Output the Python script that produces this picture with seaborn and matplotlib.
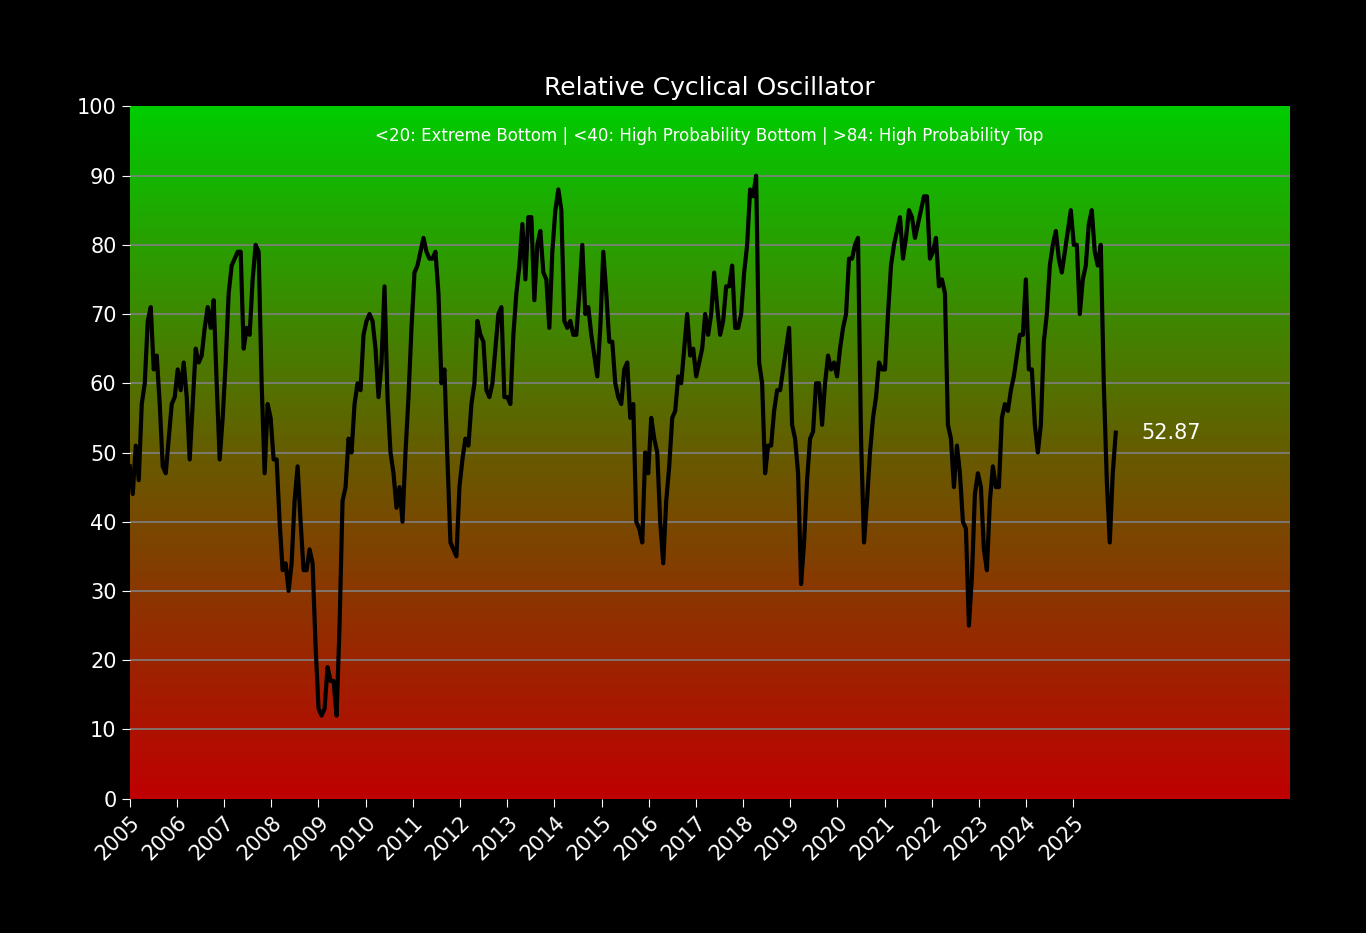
import numpy as np
import pandas as pd
import matplotlib
matplotlib.use("Agg")
import matplotlib.pyplot as plt
import matplotlib.dates as mdates
from matplotlib.colors import LinearSegmentedColormap
import seaborn as sns

# oscillator values, roughly evenly spaced in time
osc_values = [48, 44, 51, 46, 57, 60, 69, 71, 62, 64, 57, 48, 47, 52, 57, 58, 62, 59, 63, 58, 49, 57, 65, 63, 64, 68, 71, 68, 72, 60,
              49, 55, 63, 73, 77, 78, 79, 79, 65, 68, 67, 75, 80, 79, 60, 47, 57, 55, 49, 49, 40, 33, 34, 30, 34, 43, 48, 40, 33, 33,
              36, 34, 22, 13, 12, 13, 19, 17, 17, 12, 25, 43, 45, 52, 50, 57, 60, 59, 67, 69, 70, 69, 65, 58, 63, 74, 58, 50, 47, 42,
              45, 40, 50, 58, 68, 76, 77, 79, 81, 79, 78, 78, 79, 73, 60, 62, 49, 37, 36, 35, 45, 49, 52, 51, 57, 60, 69, 67, 66, 59,
              58, 60, 65, 70, 71, 58, 58, 57, 67, 73, 77, 83, 75, 84, 84, 72, 80, 82, 76, 75, 68, 79, 85, 88, 85, 69, 68, 69, 67, 67,
              73, 80, 70, 71, 67, 64, 61, 68, 79, 73, 66, 66, 60, 58, 57, 62, 63, 55, 57, 40, 39, 37, 50, 47, 55, 52, 50, 40, 34, 43,
              48, 55, 56, 61, 60, 65, 70, 64, 65, 61, 63, 65, 70, 67, 70, 76, 71, 67, 69, 74, 74, 77, 68, 68, 70, 76, 80, 88, 87, 90,
              63, 60, 47, 51, 51, 56, 59, 59, 62, 65, 68, 54, 52, 47, 31, 37, 46, 52, 53, 60, 60, 54, 60, 64, 62, 63, 61, 65, 68, 70,
              78, 78, 80, 81, 52, 37, 43, 50, 55, 58, 63, 62, 62, 70, 77, 80, 82, 84, 78, 81, 85, 84, 81, 83, 85, 87, 87, 78, 79, 81,
              74, 75, 73, 54, 52, 45, 51, 47, 40, 39, 25, 32, 44, 47, 45, 36, 33, 43, 48, 45, 45, 55, 57, 56, 59, 61, 64, 67, 67, 75,
              62, 62, 54, 50, 54, 66, 70, 77, 80, 82, 78, 76, 79, 82, 85, 80, 80, 70, 75, 77, 83, 85, 79, 77, 80, 60, 46, 37, 47, 52.87]
start_date = "2005-01-01"
end_date = "2025-11-25"
year_ticks = list(range(2005, 2026))
last_label = "52.87"

dates = pd.date_range(start_date, end_date, periods=len(osc_values))
df = pd.DataFrame({"date": dates, "value": osc_values})

fig = plt.figure(figsize=(13.66, 9.33), dpi=100, facecolor="black")
ax = fig.add_axes([0.095, 0.144, 0.849, 0.742])
ax.set_facecolor("black")

xmin = mdates.date2num(pd.Timestamp("2005-01-01"))
xmax = mdates.date2num(pd.Timestamp("2029-08-01"))

# red -> green vertical gradient background
cmap = LinearSegmentedColormap.from_list("rg", [(0.75, 0.0, 0.0), (0.4, 0.36, 0.0), (0.0, 0.8, 0.0)])
grad = np.linspace(0, 1, 256).reshape(-1, 1)
ax.imshow(grad, aspect="auto", cmap=cmap, origin="lower", extent=[xmin, xmax, 0, 100], zorder=0)

for yv in range(10, 100, 10):
    ax.axhline(yv, color="gray", lw=1.2, zorder=1)

sns.lineplot(data=df, x="date", y="value", color="black", lw=3, ax=ax, zorder=3)

ax.text(mdates.date2num(dates[-1]) + 200, osc_values[-1], last_label, color="white",
        fontsize=15, va="center")
ax.text(0.5, 0.97, "<20: Extreme Bottom | <40: High Probability Bottom | >84: High Probability Top",
        transform=ax.transAxes, color="white", fontsize=12, ha="center", va="top")

ax.set_xlim(xmin, xmax)
ax.set_ylim(0, 100)
ax.set_yticks(range(0, 101, 10))
ax.set_xticks([mdates.date2num(pd.Timestamp(f"{y}-01-01")) for y in year_ticks])
ax.set_xticklabels([str(y) for y in year_ticks], rotation=45, ha="right", rotation_mode="anchor")
ax.tick_params(colors="white", labelsize=15, length=6)
ax.set_xlabel("")
ax.set_ylabel("")
for s in ax.spines.values():
    s.set_visible(False)
ax.set_title("Relative Cyclical Oscillator", color="white", fontsize=18, pad=8)

fig.savefig("out.png", dpi=100, facecolor="black")
